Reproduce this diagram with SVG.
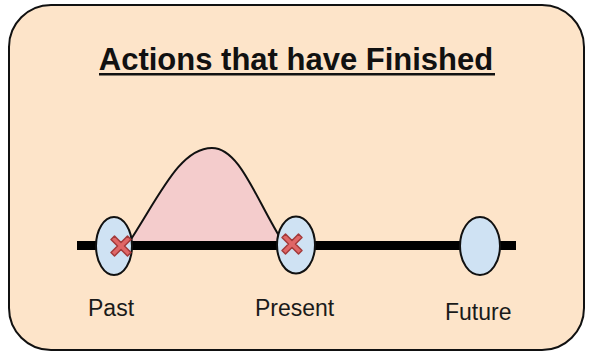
<svg xmlns="http://www.w3.org/2000/svg" width="589" height="354" viewBox="0 0 589 354">
  <style>
    .lbl { font-family: "Liberation Sans", Arial, sans-serif; font-size: 23px; fill: #1a1a1a; }
    .title { font-family: "Liberation Sans", Arial, sans-serif; font-size: 31px; font-weight: bold; fill: #111; }
    .pt { fill: #cfe2f3; stroke: #111; stroke-width: 2; }
    .x { fill: #e06666; stroke: #a33a3a; stroke-width: 1.5; stroke-linejoin: round; }
  </style>
  <defs>
    <polygon id="xmark" points="-10,-6.5 -6.5,-10 0,-3.5 6.5,-10 10,-6.5 3.5,0 10,6.5 6.5,10 0,3.5 -6.5,10 -10,6.5 -3.5,0"/>
  </defs>
  <rect x="9" y="5" width="575" height="345" rx="42" ry="42" fill="#fde4c9" stroke="#111" stroke-width="2"/>
  <g id="title">
    <text class="title" x="296" y="70" text-anchor="middle">Actions that have Finished</text>
    <rect x="99" y="73" width="396" height="2.5" fill="#111"/>
  </g>
  <g id="hump">
    <path d="M128,244 C160,195 180,148 212,148 C240,148 256,200 284,244 Z" fill="#f4cccc" stroke="#111" stroke-width="2"/>
  </g>
  <g id="connectors">
    <rect x="77" y="241" width="439" height="9" fill="#000"/>
  </g>
  <g id="past">
    <ellipse class="pt" cx="114" cy="246" rx="18" ry="29"/>
    <use href="#xmark" class="x" transform="translate(121,246)"/>
    <text class="lbl" x="88" y="316">Past</text>
  </g>
  <g id="present">
    <ellipse class="pt" cx="296" cy="245" rx="19" ry="28.5"/>
    <use href="#xmark" class="x" transform="translate(292,244)"/>
    <text class="lbl" x="255" y="316">Present</text>
  </g>
  <g id="future">
    <ellipse class="pt" cx="480" cy="246" rx="20" ry="29"/>
    <text class="lbl" x="445" y="320">Future</text>
  </g>
</svg>
